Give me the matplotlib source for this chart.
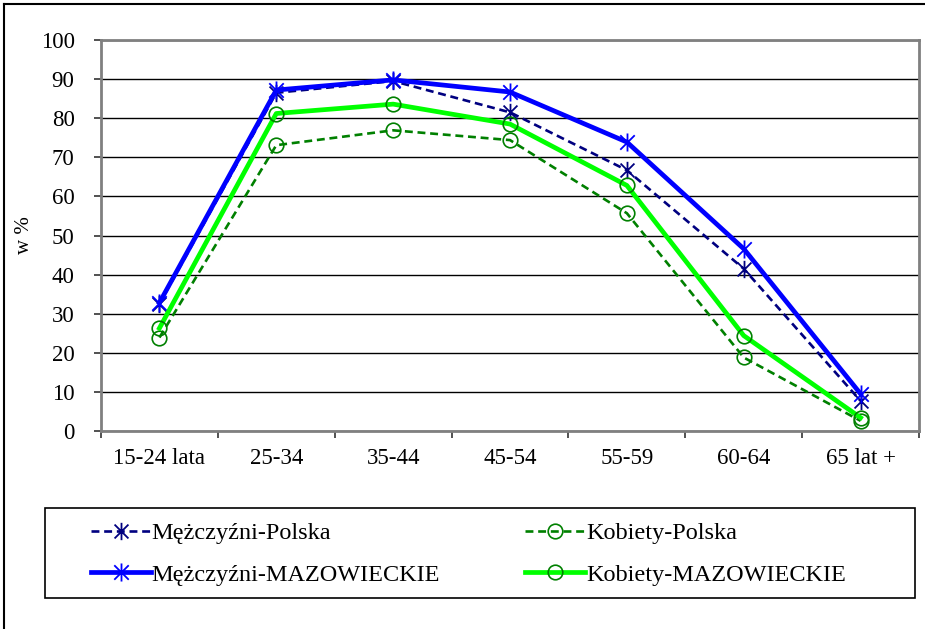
import matplotlib
matplotlib.use("Agg")
import matplotlib.pyplot as plt
from matplotlib.path import Path
from matplotlib.lines import Line2D
from matplotlib.patches import Rectangle
from matplotlib.ticker import FixedLocator, NullFormatter

categories = ["15-24 lata", "25-34", "35-44", "45-54", "55-59", "60-64", "65 lat +"]
men_pl = [32.5, 86.5, 89.5, 81.5, 66.7, 41.5, 7.7]
women_pl = [23.9, 73.1, 76.9, 74.4, 55.7, 18.8, 2.6]
men_maz = [32.8, 87.2, 89.8, 86.7, 73.9, 46.6, 9.5]
women_maz = [26.3, 81.2, 83.6, 78.5, 62.8, 24.4, 3.4]
labels = ["Mężczyźni-Polska", "Kobiety-Polska", "Mężczyźni-MAZOWIECKIE", "Kobiety-MAZOWIECKIE"]
y_ticks = list(range(0, 101, 10))

plt.rcParams["font.family"] = ["Liberation Serif", "DejaVu Serif"]

# asterisk marker: an x with a vertical stroke
star = Path(
    [(-1, -1), (1, 1), (-1, 1), (1, -1), (0, -1.25), (0, 1.25)],
    [Path.MOVETO, Path.LINETO, Path.MOVETO, Path.LINETO, Path.MOVETO, Path.LINETO],
)

W, H = 925, 629
fig = plt.figure(figsize=(W / 100, H / 100), dpi=100)
ax = fig.add_axes([101 / W, 1 - 431 / H, (919 - 101) / W, (431 - 40) / H])

x = list(range(len(categories)))
dash = (3.0, 1.8)

l_mp, = ax.plot(x, men_pl, color="#000080", lw=1.9, linestyle=(0, dash),
                marker=star, markersize=12.5, markeredgewidth=1.3,
                markerfacecolor="none", markeredgecolor="#000080", zorder=3)
l_kp, = ax.plot(x, women_pl, color="#008000", lw=1.9, linestyle=(0, dash),
                marker="o", markersize=10.5, markeredgewidth=1.2,
                markerfacecolor="none", markeredgecolor="#008000", zorder=3.2)
l_mm, = ax.plot(x, men_maz, color="#0000FF", lw=3.4, linestyle="-",
                marker=star, markersize=13, markeredgewidth=1.3,
                markerfacecolor="none", markeredgecolor="#0000FF", zorder=3.4)
l_km, = ax.plot(x, women_maz, color="#00FF00", lw=3.4, linestyle="-",
                marker="o", markersize=10.5, markeredgewidth=1.2,
                markerfacecolor="none", markeredgecolor="#008000", zorder=3.6)

ax.set_xlim(-0.5, len(categories) - 0.5)
ax.set_ylim(0, 100)
ax.set_yticks(y_ticks)
ax.yaxis.grid(True, color="#000000", lw=1.0)
ax.set_axisbelow(True)

ax.set_xticks(x)
ax.set_xticklabels(categories)
ax.xaxis.set_minor_locator(FixedLocator([i - 0.5 for i in range(len(categories) + 1)]))
ax.xaxis.set_minor_formatter(NullFormatter())
ax.tick_params(axis="x", which="major", length=0, pad=12, labelsize=16.5)
ax.tick_params(axis="x", which="minor", length=5, width=1.2, color="#333333")
ax.tick_params(axis="y", which="major", length=5, width=1.2, color="#333333", pad=14, labelsize=16.5)

for side in ["left", "bottom", "top", "right"]:
    ax.spines[side].set_color("#808080")
    ax.spines[side].set_linewidth(2)

ax.set_ylabel("w %", fontsize=15)
ax.yaxis.set_label_coords(-(101 - 34) / 818, 0.5)

# legend box
fig.add_artist(Rectangle((45 / W, 1 - 598 / H), 870 / W, 90 / H, transform=fig.transFigure,
                         facecolor="white", edgecolor="black", lw=1.2, zorder=1))
leg = fig.legend([l_mp, l_mm, l_kp, l_km],
                 [labels[0], labels[2], labels[1], labels[3]],
                 ncol=2, loc="center left",
                 bbox_to_anchor=(91 / W, 1 - 554 / H),
                 fontsize=17.5, handlelength=2.45, handletextpad=0.05,
                 borderpad=0, borderaxespad=0, labelspacing=0.8, columnspacing=3.5,
                 frameon=False)
leg.set_zorder(2)

# figure border along the top and left edges
fig.add_artist(Line2D([4 / W, 4 / W], [0, 1 - 4 / H], transform=fig.transFigure,
                      color="black", lw=1.5))
fig.add_artist(Line2D([4 / W, 1], [1 - 4 / H, 1 - 4 / H], transform=fig.transFigure,
                      color="black", lw=1.5))

fig.savefig("out.png", dpi=100)
